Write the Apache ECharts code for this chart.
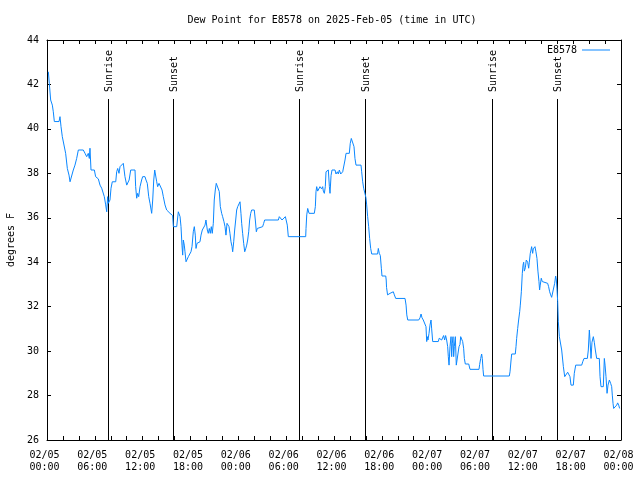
<!DOCTYPE html>
<html>
<head>
<meta charset="utf-8">
<script src="https://cdn.jsdelivr.net/npm/echarts@6/dist/echarts.min.js"></script>
<style>html,body{margin:0;padding:0;background:#fff}#c{width:640px;height:480px}</style>
</head>
<body>
<div id="c"></div>
<script>
// hours since 2025-02-05 00:00 UTC
const hours = [0.17,0.29,0.46,0.67,0.79,0.92,1.51,1.63,1.76,1.92,2.13,2.34,2.55,2.76,2.89,3.10,3.30,3.51,3.72,3.93,4.55,4.77,4.98,5.18,5.31,5.39,5.52,5.94,6.10,6.44,6.65,6.86,7.06,7.19,7.36,7.49,7.61,7.69,7.90,8.03,8.19,8.62,8.74,8.87,9.03,9.16,9.37,9.57,9.78,10.0,10.2,10.3,10.5,11.04,11.12,11.25,11.37,11.5,11.67,11.87,12.0,12.29,12.42,12.58,12.76,12.92,13.13,13.26,13.39,13.51,13.63,13.76,13.88,14.05,14.26,14.43,14.59,14.80,15.01,15.22,15.43,15.64,15.76,15.85,16.27,16.47,16.69,16.81,16.93,17.02,17.10,17.22,17.31,17.44,17.6,17.73,17.94,18.06,18.19,18.35,18.48,18.6,18.69,18.82,18.98,19.19,19.32,19.48,19.69,19.82,19.94,20.11,20.23,20.36,20.48,20.61,20.73,20.86,20.98,21.11,21.23,21.48,21.61,21.74,21.91,22.03,22.2,22.33,22.45,22.58,22.7,22.83,22.95,23.08,23.21,23.29,23.42,23.54,23.67,23.79,23.92,24.08,24.21,24.33,24.42,24.54,24.67,24.8,24.92,25.05,25.17,25.3,25.42,25.55,25.67,26.0,26.13,26.26,26.38,26.51,27.05,27.18,27.3,29.02,29.14,29.32,29.48,29.73,29.9,30.02,30.14,30.27,32.45,32.49,32.58,32.7,32.87,33.53,33.66,33.74,33.83,33.95,34.12,34.24,34.45,34.58,34.66,34.79,34.91,35.0,35.17,35.29,35.42,35.5,35.63,35.75,36.13,36.25,36.42,36.54,36.67,36.84,36.97,37.09,37.26,37.38,37.51,37.92,38.04,38.17,38.42,38.51,38.63,38.76,39.39,39.47,39.6,39.72,39.89,40.01,40.1,40.22,40.35,40.47,40.6,40.73,41.47,41.56,41.68,41.81,41.94,42.02,42.49,42.55,42.59,42.72,42.9,43.03,43.15,43.44,43.57,43.74,44.91,45.04,45.13,45.25,46.63,46.79,46.92,47.04,47.2,47.42,47.54,47.63,47.71,47.79,47.92,48.04,48.17,48.25,48.38,49.08,49.2,49.38,49.5,49.63,49.75,49.88,50.0,50.13,50.26,50.34,50.43,50.55,50.68,50.76,50.84,50.93,51.01,51.09,51.22,51.34,51.47,51.59,51.68,51.8,51.89,52.02,52.14,52.26,52.35,52.47,52.9,53.06,54.19,54.27,54.4,54.52,54.6,54.69,54.77,57.99,58.08,58.21,58.29,58.74,58.83,58.91,59.04,59.16,59.29,59.37,59.5,59.62,59.71,59.79,59.87,60.0,60.12,60.29,60.42,60.5,60.62,60.71,60.79,60.92,61.0,61.12,61.21,61.33,61.46,61.58,61.71,61.79,61.87,62.0,62.12,62.25,62.8,62.92,63.05,63.18,63.3,63.55,63.68,63.8,63.89,63.97,64.06,64.14,64.27,64.35,64.56,64.77,64.94,65.19,65.31,65.48,65.6,65.73,66.02,66.14,66.32,67.07,67.2,67.36,67.78,67.9,68.03,68.11,68.24,68.36,68.53,68.65,68.78,68.95,69.28,69.37,69.49,69.78,69.91,70.0,70.12,70.25,70.37,70.54,70.7,70.83,70.91,71.0,71.08,71.29,71.46,71.58,71.71,71.83];
const dewF = [42.57,42.05,41.3,41.07,40.77,40.33,40.33,40.55,40.1,39.65,39.6,38.9,38.22,37.92,37.62,37.62,38.15,38.37,38.67,39.05,39.05,38.9,38.75,38.9,38.67,39.13,38.15,38.15,37.85,37.75,37.47,37.33,37.25,36.95,36.58,36.27,36.95,36.65,36.8,37.33,37.62,37.62,38.07,38.22,38.0,38.3,38.22,38.45,37.85,37.47,37.47,37.7,38.15,38.15,37.4,36.88,37.1,36.95,37.4,37.7,37.85,37.85,37.7,37.55,36.95,36.65,36.2,36.8,37.7,38.15,38.07,37.62,37.4,37.55,37.55,37.25,36.95,36.58,36.35,36.27,36.2,36.27,36.1,35.6,35.6,36.27,36.05,35.6,34.77,34.32,35.0,34.77,34.47,34.02,34.1,34.25,34.25,34.47,34.7,35.37,35.6,35.22,34.62,34.85,34.88,34.92,35.22,35.45,35.52,35.67,35.9,35.45,35.3,35.52,35.3,35.6,35.3,35.75,36.8,37.25,37.55,37.55,37.18,36.5,36.2,36.05,35.82,35.6,35.22,35.75,35.67,35.6,35.3,34.92,34.7,34.47,34.92,35.45,35.9,36.35,36.5,36.58,36.72,36.2,35.75,35.3,34.85,34.47,34.6,34.77,35.0,35.37,35.9,36.2,36.35,36.35,35.9,35.37,35.52,35.6,35.6,35.75,35.9,35.9,36.05,36.13,35.9,35.9,36.05,36.13,35.67,35.15,35.15,35.52,36.13,36.42,36.2,36.2,36.5,37.17,37.4,37.2,37.25,37.4,37.3,37.4,37.2,37.1,37.4,38.07,38.15,38.15,37.4,37.1,37.9,38.15,38.15,37.97,38.07,37.97,38.15,37.97,37.9,38.07,38.15,38.6,38.9,38.9,39.35,39.57,39.57,39.2,38.67,38.37,38.37,38.07,37.62,37.33,37.33,36.9,36.58,36.05,35.6,35.07,34.62,34.37,34.37,34.62,34.4,34.3,33.73,33.38,33.38,33.2,32.87,32.53,32.45,32.6,32.67,32.67,32.53,32.37,32.37,32.07,31.63,31.4,31.4,31.5,31.67,31.5,31.4,31.37,31.1,30.43,30.65,30.5,30.8,31.17,31.4,31.0,30.43,30.43,30.58,30.65,30.5,30.5,30.7,30.5,30.7,30.5,30.2,29.75,29.37,30.2,30.65,29.75,30.35,30.65,29.75,30.2,30.65,29.37,29.37,29.37,30.2,30.3,30.65,30.65,30.43,30.13,29.67,29.42,29.42,29.18,29.18,29.4,29.67,29.87,29.67,29.18,28.88,28.88,29.07,29.6,29.87,29.87,30.2,30.57,31.02,31.4,31.77,32.07,32.67,33.5,33.87,34.0,33.6,33.75,34.1,34.0,33.73,34.0,34.4,34.55,34.7,34.4,34.6,34.62,34.7,34.47,34.17,33.6,33.13,32.75,32.97,33.28,33.13,33.05,33.05,32.9,32.67,32.53,32.42,32.42,33.05,33.38,33.2,32.8,32.22,31.32,30.65,30.65,30.05,29.3,28.85,28.78,29.05,29.1,28.85,28.47,28.47,29.0,29.37,29.37,29.52,29.67,29.67,30.05,30.95,30.5,29.67,30.4,30.65,30.4,30.05,29.67,29.67,28.85,28.4,28.4,29.67,29.37,28.85,28.1,28.47,28.7,28.55,28.4,28.02,27.65,27.42,27.42,27.57,27.67,27.57,27.42];
const markerHours = [7.69, 15.84, 31.65, 39.95, 55.76, 64.01];
const markerNames = ['Sunrise', 'Sunset', 'Sunrise', 'Sunset', 'Sunrise', 'Sunset'];
const xTickLabels = ['02/05\n00:00','02/05\n06:00','02/05\n12:00','02/05\n18:00','02/06\n00:00','02/06\n06:00','02/06\n12:00','02/06\n18:00','02/07\n00:00','02/07\n06:00','02/07\n12:00','02/07\n18:00','02/08\n00:00'];
const yTicks = {min: 26, max: 44, step: 2};
const seriesName = 'E8578';
const titleText = 'Dew Point for E8578 on 2025-Feb-05 (time in UTC)';

const FONT = '"DejaVu Sans Mono", "Liberation Mono", monospace';
const LINE_COLOR = '#0a87ff';
const chart = echarts.init(document.getElementById('c'), null, {renderer: 'canvas'});

const axisCommon = {
  type: 'value', min: 0, max: 72, interval: 6,
  axisLine: {show: true, onZero: false, lineStyle: {color: '#000', width: 1}},
  axisTick: {show: true, inside: true, length: 4, lineStyle: {color: '#000'}},
  minorTick: {show: true, splitNumber: 3, length: 4, lineStyle: {color: '#000'}},
  splitLine: {show: false}
};

chart.setOption({
  animation: false,
  backgroundColor: '#fff',
  grid: {left: 47, right: 19, top: 40, bottom: 40, containLabel: false, outerBoundsMode: 'none'},
  graphic: [{
    type: 'text', x: 332, y: 20,
    style: {text: titleText, font: '10px ' + FONT, fill: '#000', align: 'center', verticalAlign: 'middle'}
  }],
  legend: {
    data: [{name: seriesName, icon: 'rect', itemStyle: {color: LINE_COLOR}}],
    right: 30, top: 45, align: 'right',
    itemWidth: 28, itemHeight: 1, itemGap: 0,
    textStyle: {fontFamily: FONT, fontSize: 10, color: '#000'},
    padding: 0
  },
  xAxis: [
    Object.assign({}, axisCommon, {
      position: 'bottom',
      axisLabel: {
        show: true, margin: 9, color: '#000', fontFamily: FONT, fontSize: 10, lineHeight: 12,
        padding: [0, 5, 0, 0],
        formatter: v => xTickLabels[Math.round(v / 6)]
      }
    }),
    Object.assign({}, axisCommon, {position: 'top', axisLabel: {show: false}})
  ],
  yAxis: [
    {
      type: 'value', position: 'left', min: yTicks.min, max: yTicks.max, interval: yTicks.step,
      name: 'degrees F', nameLocation: 'middle', nameGap: 31, nameRotate: 90,
      nameTextStyle: {fontFamily: FONT, fontSize: 10, color: '#000'},
      axisLine: {show: true, onZero: false, lineStyle: {color: '#000'}},
      axisTick: {show: true, inside: true, length: 4, lineStyle: {color: '#000'}},
      splitLine: {show: false},
      axisLabel: {margin: 8, color: '#000', fontFamily: FONT, fontSize: 10}
    },
    {
      type: 'value', position: 'right', min: yTicks.min, max: yTicks.max, interval: yTicks.step,
      axisLine: {show: true, onZero: false, lineStyle: {color: '#000'}},
      axisTick: {show: true, inside: true, length: 4, lineStyle: {color: '#000'}},
      splitLine: {show: false},
      axisLabel: {show: false}
    }
  ],
  series: [
    {
      type: 'custom', name: 'markers', xAxisIndex: 0, yAxisIndex: 0, silent: true,
      data: markerHours.map((h, i) => [h, yTicks.min]),
      renderItem: function (params, api) {
        const h = api.value(0);
        const bot = api.coord([h, yTicks.min]);
        const top = api.coord([h, yTicks.max]);
        const x = Math.round(bot[0]) + 0.5;
        return {
          type: 'group',
          children: [
            {type: 'line', shape: {x1: x, y1: bot[1], x2: x, y2: top[1] + 59},
             style: {stroke: '#000', lineWidth: 1}},
            {type: 'text', x: x + 1, y: top[1] + 52, rotation: Math.PI / 2,
             style: {text: markerNames[params.dataIndex], font: '10px ' + FONT, fill: '#000',
                     align: 'left', verticalAlign: 'middle'}}
          ]
        };
      },
      z: 1
    },
    {
      type: 'line', name: seriesName, xAxisIndex: 0, yAxisIndex: 0,
      data: hours.map((h, i) => [h, dewF[i]]),
      symbol: 'none', showSymbol: false,
      lineStyle: {color: LINE_COLOR, width: 1},
      itemStyle: {color: LINE_COLOR},
      z: 2
    }
  ]
});
</script>
</body>
</html>
